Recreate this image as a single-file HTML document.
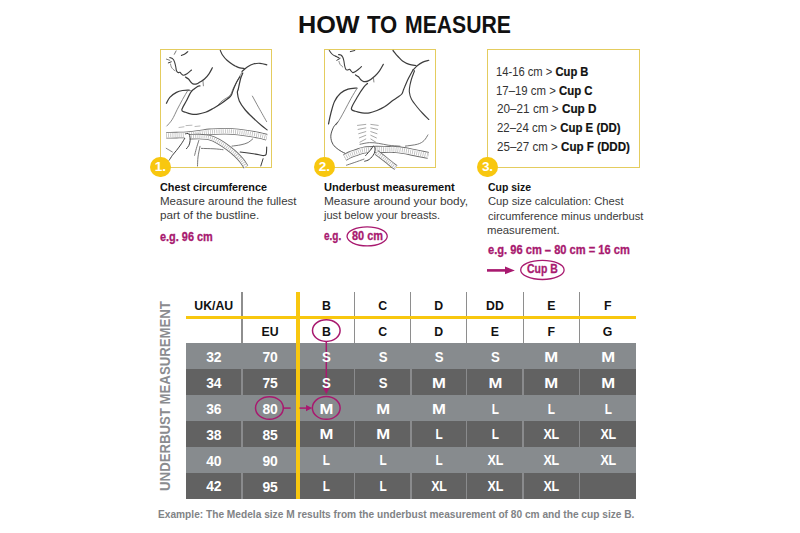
<!DOCTYPE html>
<html><head><meta charset="utf-8"><style>
*{margin:0;padding:0;box-sizing:border-box}
html,body{width:800px;height:533px;background:#fff;overflow:hidden}
body{position:relative;font-family:"Liberation Sans",Arial,sans-serif;color:#222}
.a{position:absolute;white-space:nowrap;transform-origin:0 0}
.box{position:absolute;top:49px;height:118.7px;border:1.5px solid #e4cc5e}
.num{position:absolute;width:20.6px;height:20.6px;border-radius:50%;background:#f8c70f;color:#fff;font-weight:bold;font-size:13.6px;line-height:19.5px;text-align:center;top:156.6px;letter-spacing:-0.2px}
.bg{position:absolute}
.c{position:absolute;text-align:center;font-weight:bold;white-space:nowrap}
.w{color:#fff;font-size:13.9px;letter-spacing:-0.3px}
.k{color:#111;font-size:12.3px}
.sk{-webkit-text-stroke:0.3px currentColor}
.cl b{color:#111;-webkit-text-stroke:0.2px #111}
</style></head><body>
<div class="bg" style="left:185.6px;top:343.30px;width:450.20px;height:25.97px;background:#878b8e"></div>
<div class="bg" style="left:185.6px;top:369.22px;width:450.20px;height:25.97px;background:#626262"></div>
<div class="bg" style="left:241.00px;top:369.22px;width:1.8px;height:25.92px;background:#8a8b8d"></div>
<div class="bg" style="left:353.70px;top:369.22px;width:1.8px;height:25.92px;background:#8a8b8d"></div>
<div class="bg" style="left:409.90px;top:369.22px;width:1.8px;height:25.92px;background:#8a8b8d"></div>
<div class="bg" style="left:465.70px;top:369.22px;width:1.8px;height:25.92px;background:#8a8b8d"></div>
<div class="bg" style="left:522.30px;top:369.22px;width:1.8px;height:25.92px;background:#8a8b8d"></div>
<div class="bg" style="left:578.60px;top:369.22px;width:1.8px;height:25.92px;background:#8a8b8d"></div>
<div class="bg" style="left:185.6px;top:395.14px;width:450.20px;height:25.97px;background:#878b8e"></div>
<div class="bg" style="left:185.6px;top:421.06px;width:450.20px;height:25.97px;background:#626262"></div>
<div class="bg" style="left:241.00px;top:421.06px;width:1.8px;height:25.92px;background:#8a8b8d"></div>
<div class="bg" style="left:353.70px;top:421.06px;width:1.8px;height:25.92px;background:#8a8b8d"></div>
<div class="bg" style="left:409.90px;top:421.06px;width:1.8px;height:25.92px;background:#8a8b8d"></div>
<div class="bg" style="left:465.70px;top:421.06px;width:1.8px;height:25.92px;background:#8a8b8d"></div>
<div class="bg" style="left:522.30px;top:421.06px;width:1.8px;height:25.92px;background:#8a8b8d"></div>
<div class="bg" style="left:578.60px;top:421.06px;width:1.8px;height:25.92px;background:#8a8b8d"></div>
<div class="bg" style="left:185.6px;top:446.98px;width:450.20px;height:25.97px;background:#878b8e"></div>
<div class="bg" style="left:185.6px;top:472.90px;width:450.20px;height:25.97px;background:#626262"></div>
<div class="bg" style="left:241.00px;top:472.90px;width:1.8px;height:25.92px;background:#8a8b8d"></div>
<div class="bg" style="left:353.70px;top:472.90px;width:1.8px;height:25.92px;background:#8a8b8d"></div>
<div class="bg" style="left:409.90px;top:472.90px;width:1.8px;height:25.92px;background:#8a8b8d"></div>
<div class="bg" style="left:465.70px;top:472.90px;width:1.8px;height:25.92px;background:#8a8b8d"></div>
<div class="bg" style="left:522.30px;top:472.90px;width:1.8px;height:25.92px;background:#8a8b8d"></div>
<div class="bg" style="left:578.60px;top:472.90px;width:1.8px;height:25.92px;background:#8a8b8d"></div>
<div class="bg" style="left:241.20px;top:292.3px;width:1.4px;height:51.00px;background:#8e8e8e"></div>
<div class="bg" style="left:353.90px;top:292.3px;width:1.4px;height:51.00px;background:#8e8e8e"></div>
<div class="bg" style="left:410.10px;top:292.3px;width:1.4px;height:51.00px;background:#8e8e8e"></div>
<div class="bg" style="left:465.90px;top:292.3px;width:1.4px;height:51.00px;background:#8e8e8e"></div>
<div class="bg" style="left:522.50px;top:292.3px;width:1.4px;height:51.00px;background:#8e8e8e"></div>
<div class="bg" style="left:578.80px;top:292.3px;width:1.4px;height:51.00px;background:#8e8e8e"></div>
<div class="bg" style="left:185.6px;top:316.1px;width:450.20px;height:2.5px;background:#f8c70f"></div>
<div class="bg" style="left:296.4px;top:291.7px;width:3.3px;height:207.00px;background:#f8c70f"></div>
<div class="c k" style="left:185.60px;width:56.30px;top:297.60px;line-height:16px">UK/AU</div>
<div class="c k" style="left:241.90px;width:56.20px;top:323.60px;line-height:16px">EU</div>
<div class="c k" style="left:298.10px;width:56.50px;top:297.60px;line-height:16px">B</div>
<div class="c k" style="left:298.10px;width:56.50px;top:323.60px;line-height:16px">B</div>
<div class="c k" style="left:354.60px;width:56.20px;top:297.60px;line-height:16px">C</div>
<div class="c k" style="left:354.60px;width:56.20px;top:323.60px;line-height:16px">C</div>
<div class="c k" style="left:410.80px;width:55.80px;top:297.60px;line-height:16px">D</div>
<div class="c k" style="left:410.80px;width:55.80px;top:323.60px;line-height:16px">D</div>
<div class="c k" style="left:466.60px;width:56.60px;top:297.60px;line-height:16px">DD</div>
<div class="c k" style="left:466.60px;width:56.60px;top:323.60px;line-height:16px">E</div>
<div class="c k" style="left:523.20px;width:56.30px;top:297.60px;line-height:16px">E</div>
<div class="c k" style="left:523.20px;width:56.30px;top:323.60px;line-height:16px">F</div>
<div class="c k" style="left:579.50px;width:56.30px;top:297.60px;line-height:16px">F</div>
<div class="c k" style="left:579.50px;width:56.30px;top:323.60px;line-height:16px">G</div>
<svg class="bg" style="left:0;top:0" width="800" height="533" viewBox="0 0 800 533">
<g fill="none" stroke="#a8196f" stroke-width="1.5">
<ellipse cx="326.3" cy="330.6" rx="13.8" ry="10.8"/>
<line x1="326.3" y1="341.5" x2="326.3" y2="389"/>
<ellipse cx="269.4" cy="408" rx="13.9" ry="11.3"/>
<ellipse cx="326.25" cy="407.9" rx="13.9" ry="11.4"/>
<line x1="283.5" y1="408.1" x2="290.6" y2="408.1"/>
<line x1="299.5" y1="408.1" x2="307" y2="408.1"/>
</g>
<g fill="#a8196f">
<path d="M306,405 L312.2,408.1 L306,411.2Z"/>
<path d="M323.2,388 L326.3,394.2 L329.4,388Z"/>
</g>
</svg>
<div class="c w" style="left:185.60px;width:56.30px;top:348.86px;line-height:16px">32</div>
<div class="c w" style="left:241.90px;width:56.20px;top:349.36px;line-height:16px">70</div>
<div class="c w" style="left:298.10px;width:56.50px;top:348.66px;line-height:16px;transform:scaleX(0.95)">S</div>
<div class="c w" style="left:354.60px;width:56.20px;top:348.66px;line-height:16px;transform:scaleX(0.95)">S</div>
<div class="c w" style="left:410.80px;width:55.80px;top:348.66px;line-height:16px;transform:scaleX(0.95)">S</div>
<div class="c w" style="left:466.60px;width:56.60px;top:348.66px;line-height:16px;transform:scaleX(0.95)">S</div>
<div class="c w" style="left:523.20px;width:56.30px;top:348.66px;line-height:16px;transform:scaleX(1.2)">M</div>
<div class="c w" style="left:579.50px;width:56.30px;top:348.66px;line-height:16px;transform:scaleX(1.2)">M</div>
<div class="c w" style="left:185.60px;width:56.30px;top:374.78px;line-height:16px">34</div>
<div class="c w" style="left:241.90px;width:56.20px;top:375.28px;line-height:16px">75</div>
<div class="c w" style="left:298.10px;width:56.50px;top:374.58px;line-height:16px;transform:scaleX(0.95)">S</div>
<div class="c w" style="left:354.60px;width:56.20px;top:374.58px;line-height:16px;transform:scaleX(0.95)">S</div>
<div class="c w" style="left:410.80px;width:55.80px;top:374.58px;line-height:16px;transform:scaleX(1.2)">M</div>
<div class="c w" style="left:466.60px;width:56.60px;top:374.58px;line-height:16px;transform:scaleX(1.2)">M</div>
<div class="c w" style="left:523.20px;width:56.30px;top:374.58px;line-height:16px;transform:scaleX(1.2)">M</div>
<div class="c w" style="left:579.50px;width:56.30px;top:374.58px;line-height:16px;transform:scaleX(1.2)">M</div>
<div class="c w" style="left:185.60px;width:56.30px;top:400.70px;line-height:16px">36</div>
<div class="c w" style="left:241.90px;width:56.20px;top:401.20px;line-height:16px">80</div>
<div class="c w" style="left:298.10px;width:56.50px;top:400.50px;line-height:16px;transform:scaleX(1.2)">M</div>
<div class="c w" style="left:354.60px;width:56.20px;top:400.50px;line-height:16px;transform:scaleX(1.2)">M</div>
<div class="c w" style="left:410.80px;width:55.80px;top:400.50px;line-height:16px;transform:scaleX(1.2)">M</div>
<div class="c w" style="left:466.60px;width:56.60px;top:400.50px;line-height:16px;transform:scaleX(0.85)">L</div>
<div class="c w" style="left:523.20px;width:56.30px;top:400.50px;line-height:16px;transform:scaleX(0.85)">L</div>
<div class="c w" style="left:579.50px;width:56.30px;top:400.50px;line-height:16px;transform:scaleX(0.85)">L</div>
<div class="c w" style="left:185.60px;width:56.30px;top:426.62px;line-height:16px">38</div>
<div class="c w" style="left:241.90px;width:56.20px;top:427.12px;line-height:16px">85</div>
<div class="c w" style="left:298.10px;width:56.50px;top:426.42px;line-height:16px;transform:scaleX(1.2)">M</div>
<div class="c w" style="left:354.60px;width:56.20px;top:426.42px;line-height:16px;transform:scaleX(1.2)">M</div>
<div class="c w" style="left:410.80px;width:55.80px;top:426.42px;line-height:16px;transform:scaleX(0.85)">L</div>
<div class="c w" style="left:466.60px;width:56.60px;top:426.42px;line-height:16px;transform:scaleX(0.85)">L</div>
<div class="c w" style="left:523.20px;width:56.30px;top:426.42px;line-height:16px;transform:scaleX(0.9)">XL</div>
<div class="c w" style="left:579.50px;width:56.30px;top:426.42px;line-height:16px;transform:scaleX(0.9)">XL</div>
<div class="c w" style="left:185.60px;width:56.30px;top:452.54px;line-height:16px">40</div>
<div class="c w" style="left:241.90px;width:56.20px;top:453.04px;line-height:16px">90</div>
<div class="c w" style="left:298.10px;width:56.50px;top:452.34px;line-height:16px;transform:scaleX(0.85)">L</div>
<div class="c w" style="left:354.60px;width:56.20px;top:452.34px;line-height:16px;transform:scaleX(0.85)">L</div>
<div class="c w" style="left:410.80px;width:55.80px;top:452.34px;line-height:16px;transform:scaleX(0.85)">L</div>
<div class="c w" style="left:466.60px;width:56.60px;top:452.34px;line-height:16px;transform:scaleX(0.9)">XL</div>
<div class="c w" style="left:523.20px;width:56.30px;top:452.34px;line-height:16px;transform:scaleX(0.9)">XL</div>
<div class="c w" style="left:579.50px;width:56.30px;top:452.34px;line-height:16px;transform:scaleX(0.9)">XL</div>
<div class="c w" style="left:185.60px;width:56.30px;top:478.46px;line-height:16px">42</div>
<div class="c w" style="left:241.90px;width:56.20px;top:478.96px;line-height:16px">95</div>
<div class="c w" style="left:298.10px;width:56.50px;top:478.26px;line-height:16px;transform:scaleX(0.85)">L</div>
<div class="c w" style="left:354.60px;width:56.20px;top:478.26px;line-height:16px;transform:scaleX(0.85)">L</div>
<div class="c w" style="left:410.80px;width:55.80px;top:478.26px;line-height:16px;transform:scaleX(0.9)">XL</div>
<div class="c w" style="left:466.60px;width:56.60px;top:478.26px;line-height:16px;transform:scaleX(0.9)">XL</div>
<div class="c w" style="left:523.20px;width:56.30px;top:478.26px;line-height:16px;transform:scaleX(0.9)">XL</div>
<div class="box" style="left:159.6px;width:112.4px"></div>
<div class="box" style="left:323.5px;width:112.5px"></div>
<div class="box" style="left:486.6px;width:153.4px"></div>
<svg class="bg" style="left:0;top:0" width="800" height="533" viewBox="0 0 800 533"><g fill="none" stroke-linecap="round" stroke-linejoin="round"><path d="M166.2,135.3C167.9,135.3 173.0,135.2 176.5,135.1C180.0,135.0 183.3,135.0 187.2,134.7C191.1,134.4 196.3,133.7 200.0,133.2C203.7,132.7 205.7,132.2 209.5,131.9C213.3,131.6 219.2,131.4 223.0,131.3C226.8,131.2 228.2,131.2 232.0,131.5C235.8,131.8 241.0,132.4 245.5,133.0C250.0,133.6 255.5,134.6 259.0,135.3C262.5,136.0 265.4,136.9 266.7,137.2" stroke="#6e6e6e" stroke-width="6.6" fill="none" stroke-linecap="butt"/><path d="M166.2,135.3C167.9,135.3 173.0,135.2 176.5,135.1C180.0,135.0 183.3,135.0 187.2,134.7C191.1,134.4 196.3,133.7 200.0,133.2C203.7,132.7 205.7,132.2 209.5,131.9C213.3,131.6 219.2,131.4 223.0,131.3C226.8,131.2 228.2,131.2 232.0,131.5C235.8,131.8 241.0,132.4 245.5,133.0C250.0,133.6 255.5,134.6 259.0,135.3C262.5,136.0 265.4,136.9 266.7,137.2" stroke="#fff" stroke-width="4.9" fill="none" stroke-linecap="butt"/><path d="M166.2,135.3C167.9,135.3 173.0,135.2 176.5,135.1C180.0,135.0 183.3,135.0 187.2,134.7C191.1,134.4 196.3,133.7 200.0,133.2C203.7,132.7 205.7,132.2 209.5,131.9C213.3,131.6 219.2,131.4 223.0,131.3C226.8,131.2 228.2,131.2 232.0,131.5C235.8,131.8 241.0,132.4 245.5,133.0C250.0,133.6 255.5,134.6 259.0,135.3C262.5,136.0 265.4,136.9 266.7,137.2" stroke="#bdbdbd" stroke-width="4.2" fill="none" stroke-dasharray="0.8 1.3" stroke-linecap="butt"/><path d="M189.0,136.8C190.7,136.8 195.6,136.5 199.0,136.6C202.4,136.7 206.2,136.8 209.5,137.6C212.8,138.4 215.5,139.8 218.5,141.5C221.5,143.2 224.6,145.3 227.5,147.5C230.4,149.7 233.6,152.2 236.0,154.5C238.4,156.8 240.3,158.9 242.0,161.0C243.7,163.1 245.3,166.0 246.0,167.0" stroke="#6e6e6e" stroke-width="5.5" fill="none" stroke-linecap="butt"/><path d="M189.0,136.8C190.7,136.8 195.6,136.5 199.0,136.6C202.4,136.7 206.2,136.8 209.5,137.6C212.8,138.4 215.5,139.8 218.5,141.5C221.5,143.2 224.6,145.3 227.5,147.5C230.4,149.7 233.6,152.2 236.0,154.5C238.4,156.8 240.3,158.9 242.0,161.0C243.7,163.1 245.3,166.0 246.0,167.0" stroke="#fff" stroke-width="3.8" fill="none" stroke-linecap="butt"/><path d="M189.0,136.8C190.7,136.8 195.6,136.5 199.0,136.6C202.4,136.7 206.2,136.8 209.5,137.6C212.8,138.4 215.5,139.8 218.5,141.5C221.5,143.2 224.6,145.3 227.5,147.5C230.4,149.7 233.6,152.2 236.0,154.5C238.4,156.8 240.3,158.9 242.0,161.0C243.7,163.1 245.3,166.0 246.0,167.0" stroke="#bdbdbd" stroke-width="3.1" fill="none" stroke-dasharray="0.8 1.3" stroke-linecap="butt"/><path d="M344.7,157.6C345.6,157.1 347.9,155.7 349.9,154.8C351.9,153.9 354.4,153.2 356.8,152.4C359.2,151.6 360.8,150.6 364.0,150.1C367.2,149.6 371.8,149.4 376.0,149.3C380.2,149.2 385.8,149.6 389.1,149.6C392.4,149.6 392.5,149.2 396.0,149.6C399.5,149.9 404.6,150.7 410.0,151.7C415.4,152.7 425.2,154.8 428.3,155.4" stroke="#6e6e6e" stroke-width="7.0" fill="none" stroke-linecap="butt"/><path d="M344.7,157.6C345.6,157.1 347.9,155.7 349.9,154.8C351.9,153.9 354.4,153.2 356.8,152.4C359.2,151.6 360.8,150.6 364.0,150.1C367.2,149.6 371.8,149.4 376.0,149.3C380.2,149.2 385.8,149.6 389.1,149.6C392.4,149.6 392.5,149.2 396.0,149.6C399.5,149.9 404.6,150.7 410.0,151.7C415.4,152.7 425.2,154.8 428.3,155.4" stroke="#fff" stroke-width="5.3" fill="none" stroke-linecap="butt"/><path d="M344.7,157.6C345.6,157.1 347.9,155.7 349.9,154.8C351.9,153.9 354.4,153.2 356.8,152.4C359.2,151.6 360.8,150.6 364.0,150.1C367.2,149.6 371.8,149.4 376.0,149.3C380.2,149.2 385.8,149.6 389.1,149.6C392.4,149.6 392.5,149.2 396.0,149.6C399.5,149.9 404.6,150.7 410.0,151.7C415.4,152.7 425.2,154.8 428.3,155.4" stroke="#bdbdbd" stroke-width="4.6" fill="none" stroke-dasharray="0.8 1.3" stroke-linecap="butt"/><path d="M376.5,152.5C378.1,153.7 383.2,157.6 386.0,159.8C388.8,162.0 391.3,164.2 393.0,165.5C394.7,166.8 395.5,167.2 396.0,167.5" stroke="#6e6e6e" stroke-width="5.5" fill="none" stroke-linecap="butt"/><path d="M376.5,152.5C378.1,153.7 383.2,157.6 386.0,159.8C388.8,162.0 391.3,164.2 393.0,165.5C394.7,166.8 395.5,167.2 396.0,167.5" stroke="#fff" stroke-width="3.8" fill="none" stroke-linecap="butt"/><path d="M376.5,152.5C378.1,153.7 383.2,157.6 386.0,159.8C388.8,162.0 391.3,164.2 393.0,165.5C394.7,166.8 395.5,167.2 396.0,167.5" stroke="#bdbdbd" stroke-width="3.1" fill="none" stroke-dasharray="0.8 1.3" stroke-linecap="butt"/><path d="M184.3,134.6 C185.5,133.4 188,133 189.6,135.3 C190.6,137.5 190.3,142 188.9,145.4 C188,147.2 186.4,148.7 186.4,148.7 L183.5,145 L184.7,138.4Z" fill="#fff" stroke="none"/><path d="M365.6,155.6 L371.3,149 L373.1,146.2 L375,148 L374.4,153.7 L369.4,159.3 L364.7,161.2Z" fill="#fff" stroke="none"/><path d="M174.3,54.3L176.1,50.9" stroke="#6a6a6a" stroke-width="0.9"/><path d="M181.4,55.4C182.0,55.1 183.7,54.5 184.8,53.9C185.9,53.3 187.3,52.0 187.8,51.6" stroke="#3c3c3c" stroke-width="1.1"/><path d="M166.4,59.1L169.8,60.3" stroke="#6a6a6a" stroke-width="0.9"/><path d="M168.3,62.9L171.3,61.8" stroke="#3c3c3c" stroke-width="1.0"/><path d="M169.8,57.6C170.3,57.8 172.0,58.0 172.8,58.8C173.6,59.5 174.1,60.7 174.6,62.1C175.1,63.5 175.5,65.5 175.8,67.0C176.1,68.5 176.1,69.9 176.5,70.8C176.9,71.7 177.4,72.3 178.0,72.6C178.6,72.8 179.3,72.1 179.9,72.3C180.5,72.5 180.8,73.3 181.4,73.8C182.0,74.3 182.4,75.3 183.3,75.3C184.2,75.3 185.6,74.7 187.0,73.8C188.4,72.9 190.8,70.6 191.5,70.0" stroke="#3c3c3c" stroke-width="1.1"/><path d="M170.5,64.0C170.6,64.5 170.9,66.1 171.3,67.0C171.7,67.9 172.5,68.7 173.1,69.3C173.7,69.9 174.7,70.5 175.0,70.8" stroke="#6a6a6a" stroke-width="0.8"/><path d="M185.5,77.1C186.0,77.4 187.6,78.2 188.5,79.0C189.4,79.8 190.1,81.2 190.8,82.0C191.6,82.8 192.0,83.6 193.0,83.9C194.0,84.2 195.6,84.2 196.8,83.9C198.0,83.6 198.7,82.8 200.0,82.0C201.3,81.2 203.0,80.4 204.5,79.0C206.0,77.6 207.7,75.7 209.0,73.8C210.3,71.9 211.8,68.8 212.4,67.8" stroke="#3c3c3c" stroke-width="1.2"/><path d="M203.0,81.3L203.4,85.8" stroke="#6a6a6a" stroke-width="0.8"/><path d="M220.3,50.5C220.7,51.2 221.4,53.4 222.5,55.0C223.6,56.6 225.2,58.7 227.0,60.3C228.8,61.9 231.5,63.8 233.0,64.8C234.5,65.8 234.9,65.8 236.0,66.3C237.1,66.8 238.4,67.4 239.8,67.8C241.2,68.2 243.6,68.4 244.3,68.5" stroke="#3c3c3c" stroke-width="1.2"/><path d="M242.0,71.5C242.9,70.8 245.4,68.2 247.3,67.0C249.2,65.8 251.2,64.6 253.3,64.0C255.4,63.4 257.8,63.2 260.0,63.3C262.2,63.4 265.7,64.5 266.8,64.8" stroke="#3c3c3c" stroke-width="1.2"/><path d="M242.0,72.3C241.5,73.2 240.0,75.6 239.0,77.5C238.0,79.4 237.0,81.6 236.0,83.5C235.0,85.4 234.0,87.0 233.0,89.0C232.0,91.0 231.8,93.4 230.0,95.4C228.2,97.4 224.2,99.1 222.0,101.0C219.8,102.9 217.4,105.8 216.5,106.7" stroke="#6a6a6a" stroke-width="0.8"/><path d="M242.8,73.0C242.4,74.0 241.2,76.3 240.5,79.0C239.8,81.7 238.8,86.7 238.3,89.0C237.8,91.3 237.2,90.8 237.4,92.8C237.6,94.8 238.0,98.1 239.3,101.0C240.6,103.9 242.9,107.1 245.3,110.0C247.7,112.9 250.8,115.7 253.5,118.3C256.2,120.9 259.5,123.9 261.8,125.8C264.1,127.7 266.2,129.2 267.1,129.9" stroke="#3c3c3c" stroke-width="1.2"/><path d="M252.4,96.1C253.5,98.0 256.4,103.5 258.8,107.8C261.2,112.0 265.3,119.3 266.6,121.6" stroke="#6a6a6a" stroke-width="0.8"/><path d="M166.4,103.3C167.0,102.3 168.1,99.1 169.8,97.3C171.5,95.5 174.4,93.5 176.5,92.4C178.6,91.3 180.4,90.9 182.5,90.5C184.6,90.1 188.2,90.2 189.3,90.1" stroke="#3c3c3c" stroke-width="1.2"/><path d="M194.5,89.0C194.0,89.2 192.6,90.2 191.5,90.5C190.4,90.8 188.4,90.5 187.8,90.5" stroke="#6a6a6a" stroke-width="0.7"/><path d="M187.8,90.5C186.9,92.0 184.2,96.4 182.5,99.5C180.8,102.6 179.1,105.9 177.3,109.3C175.6,112.7 173.8,117.0 172.0,119.8C170.2,122.6 167.7,125.0 166.8,126.0" stroke="#6a6a6a" stroke-width="0.8"/><path d="M200.0,85.8C199.6,85.9 198.9,85.6 197.5,86.5C196.1,87.4 193.4,88.9 191.5,91.3C189.6,93.7 187.9,97.9 186.3,101.0C184.7,104.1 181.9,108.1 181.8,110.0C181.7,111.9 183.9,111.6 185.5,112.3C187.1,113.0 189.4,113.8 191.5,114.1C193.6,114.4 195.7,114.4 198.0,114.1C200.3,113.8 203.0,113.2 205.5,112.3C208.0,111.4 210.5,109.9 213.0,108.5C215.5,107.1 217.6,106.0 220.5,104.0C223.4,102.0 228.3,98.5 230.3,96.5C232.3,94.5 231.8,93.8 232.5,92.0C233.2,90.2 234.0,87.9 234.8,86.0C235.6,84.1 236.6,82.0 237.5,80.5C238.4,79.0 239.6,77.4 240.0,76.8" stroke="#3c3c3c" stroke-width="1.2"/><path d="M232.0,146.1C233.5,145.9 238.3,145.4 241.0,144.8C243.7,144.2 246.2,143.5 248.2,142.5C250.1,141.5 251.9,139.5 252.7,138.9" stroke="#6a6a6a" stroke-width="0.9"/><path d="M240.1,152.0C241.8,152.2 246.8,152.9 250.0,153.3C253.2,153.8 256.8,154.3 259.0,154.7C261.2,155.1 262.3,155.7 263.5,155.6C264.7,155.5 265.7,155.6 266.2,154.2C266.7,152.8 266.6,148.2 266.7,147.0" stroke="#3c3c3c" stroke-width="1.1"/><path d="M263.1,158.7L260.8,166.0" stroke="#3c3c3c" stroke-width="1.0"/><path d="M201.4,148.4C203.5,148.5 210.4,148.6 214.0,148.8C217.6,149.0 221.5,149.5 223.0,149.7" stroke="#6a6a6a" stroke-width="0.9"/><path d="M185.6,133.9C186.0,133.8 187.3,133.2 188.0,133.5C188.7,133.8 189.3,134.3 189.7,135.5C190.0,136.7 190.2,138.8 190.1,140.5C190.0,142.2 189.5,144.0 188.9,145.4C188.3,146.8 186.8,148.1 186.4,148.7" stroke="#3c3c3c" stroke-width="1.0"/><path d="M184.7,138.4C184.1,139.3 182.8,141.8 181.4,143.8C180.0,145.8 178.0,148.5 176.5,150.4C175.0,152.3 173.6,153.7 172.4,155.3C171.2,157.0 169.7,159.5 169.1,160.3" stroke="#3c3c3c" stroke-width="1.0"/><path d="M166.2,148.3L172.4,152.0" stroke="#6a6a6a" stroke-width="0.8"/><path d="M198.8,140.5C198.4,141.9 197.0,146.2 196.3,148.7C195.6,151.2 194.9,154.2 194.6,155.3" stroke="#6a6a6a" stroke-width="0.9"/><path d="M200.0,146.3C199.7,148.1 198.4,153.7 198.0,157.0C197.6,160.3 197.6,164.5 197.5,166.0" stroke="#6a6a6a" stroke-width="0.9"/><path d="M179.0,127.5L184.0,126.8" stroke="#9a9a9a" stroke-width="0.7"/><path d="M186.0,125.6L192.0,125.2" stroke="#9a9a9a" stroke-width="0.7"/><path d="M195.0,126.5L200.0,126.0" stroke="#9a9a9a" stroke-width="0.7"/><path d="M329.3,50.5C329.7,51.0 330.8,52.7 331.5,53.5C332.2,54.3 333.0,54.9 333.8,55.4C334.6,55.9 335.5,56.1 336.4,56.5C337.3,56.9 338.6,57.8 339.0,58.0" stroke="#3c3c3c" stroke-width="1.1"/><path d="M336.8,60.3L340.1,58.4" stroke="#3c3c3c" stroke-width="1.0"/><path d="M338.6,54.6C339.0,54.7 340.2,54.5 340.9,55.0C341.6,55.5 342.3,56.3 342.8,57.3C343.3,58.3 343.6,59.6 343.9,61.0C344.2,62.4 344.3,64.1 344.6,65.5C344.9,66.9 345.4,68.5 345.8,69.3C346.2,70.0 346.7,70.0 347.3,70.0C347.9,70.0 348.9,69.2 349.5,69.3C350.1,69.4 350.4,70.2 351.0,70.8C351.6,71.3 352.1,72.5 352.9,72.6C353.6,72.7 354.6,72.0 355.5,71.5C356.4,71.0 357.5,70.1 358.5,69.3C359.5,68.5 361.0,67.0 361.5,66.6" stroke="#3c3c3c" stroke-width="1.1"/><path d="M339.0,61.4C339.2,61.9 339.5,63.5 340.1,64.4C340.7,65.3 342.4,66.6 342.8,67.0" stroke="#6a6a6a" stroke-width="0.8"/><path d="M350.3,51.6L354.8,50.5" stroke="#3c3c3c" stroke-width="1.0"/><path d="M355.5,74.9C356.0,75.2 357.6,76.0 358.5,76.8C359.4,77.6 359.9,79.0 360.8,79.8C361.7,80.6 362.6,81.4 363.8,81.6C365.1,81.8 366.4,81.8 368.3,80.9C370.2,80.0 373.1,77.7 375.0,76.0C376.9,74.3 378.1,72.7 379.5,70.8C380.9,68.9 382.7,65.5 383.3,64.4" stroke="#3c3c3c" stroke-width="1.2"/><path d="M373.5,78.3L373.9,82.0" stroke="#6a6a6a" stroke-width="0.8"/><path d="M393.0,50.5C393.5,51.1 395.2,53.3 396.0,54.3C396.8,55.3 396.9,55.4 398.0,56.5C399.1,57.6 400.6,59.7 402.5,61.0C404.4,62.3 407.1,63.7 409.3,64.4C411.6,65.2 414.9,65.3 416.0,65.5" stroke="#3c3c3c" stroke-width="1.2"/><path d="M413.0,70.0C413.8,69.2 415.9,66.8 417.5,65.5C419.1,64.2 420.9,63.0 422.8,62.1C424.7,61.2 427.8,60.6 428.8,60.3" stroke="#3c3c3c" stroke-width="1.2"/><path d="M413.0,70.0C412.2,71.4 409.8,75.8 408.5,78.3C407.2,80.8 406.3,83.1 405.5,85.0C404.7,86.9 404.2,88.0 403.6,89.5C403.0,91.0 402.7,92.8 401.8,94.0C400.9,95.2 399.4,96.0 398.0,97.0C396.6,98.0 395.8,98.4 393.5,100.0C391.2,101.6 387.2,105.0 384.5,106.8C381.8,108.5 379.5,109.5 377.0,110.5C374.5,111.5 372.0,112.5 369.5,112.9C367.0,113.3 364.3,113.1 362.0,112.8C359.7,112.5 357.3,112.0 355.5,111.3C353.7,110.5 351.0,110.8 351.4,108.3C351.8,105.8 355.7,99.9 357.8,96.3C359.9,92.7 362.4,89.0 364.0,86.9C365.6,84.8 366.9,84.1 367.5,83.5" stroke="#3c3c3c" stroke-width="1.2"/><path d="M414.5,70.8C414.0,72.2 412.2,76.6 411.5,79.0C410.8,81.4 410.4,82.9 410.0,85.0C409.6,87.1 409.1,89.4 409.3,91.8C409.6,94.2 410.1,96.7 411.5,99.3C412.9,101.9 415.6,105.1 417.5,107.5C419.4,109.9 420.9,111.5 422.8,113.5C424.7,115.5 427.8,118.5 428.8,119.5" stroke="#3c3c3c" stroke-width="1.1"/><path d="M328.5,124.0C328.9,122.2 329.8,117.2 330.8,113.5C331.8,109.8 332.9,104.9 334.5,101.5C336.1,98.1 338.2,95.4 340.5,93.3C342.8,91.2 345.2,90.0 348.0,89.1C350.8,88.2 355.5,88.2 357.0,88.0" stroke="#3c3c3c" stroke-width="1.2"/><path d="M357.0,88.4C356.0,90.1 353.0,94.9 351.0,98.5C349.0,102.1 346.8,106.5 345.0,109.8C343.2,113.0 342.0,115.5 340.5,118.0C339.0,120.5 336.8,123.8 336.0,125.0" stroke="#6a6a6a" stroke-width="0.8"/><path d="M337.8,122.0C337.1,122.9 334.6,125.0 333.5,127.2C332.4,129.4 331.2,132.6 330.9,135.0C330.6,137.4 331.1,139.9 331.8,141.9C332.5,143.9 333.6,145.4 335.2,147.0C336.8,148.6 339.7,150.4 341.3,151.4C342.9,152.4 344.1,152.8 344.7,153.1" stroke="#3c3c3c" stroke-width="0.9"/><path d="M427.9,134.9C427.3,135.8 425.8,138.9 424.1,140.5C422.4,142.1 420.7,143.3 417.6,144.2C414.5,145.1 407.4,145.8 405.4,146.1" stroke="#6a6a6a" stroke-width="0.9"/><path d="M360.0,144.3C361.6,144.0 366.3,142.8 369.4,142.6C372.5,142.4 375.7,143.0 378.8,143.4C381.9,143.8 384.7,144.7 388.2,145.2C391.7,145.7 398.0,146.0 400.0,146.2" stroke="#6a6a6a" stroke-width="0.9"/><path d="M357.5,125.4L365.8,124.4" stroke="#9a9a9a" stroke-width="0.85"/><path d="M370.8,124.4L378.2,125.4" stroke="#9a9a9a" stroke-width="0.85"/><path d="M358.1,129.4L365.8,127.9" stroke="#9a9a9a" stroke-width="0.85"/><path d="M370.8,127.9L377.6,129.4" stroke="#9a9a9a" stroke-width="0.85"/><path d="M358.7,133.7L365.8,131.6" stroke="#9a9a9a" stroke-width="0.85"/><path d="M370.8,131.6L377.0,133.7" stroke="#9a9a9a" stroke-width="0.85"/><path d="M359.3,137.9L365.8,135.3" stroke="#9a9a9a" stroke-width="0.85"/><path d="M370.8,135.3L376.4,137.9" stroke="#9a9a9a" stroke-width="0.85"/><path d="M359.9,142.2L365.8,139.0" stroke="#9a9a9a" stroke-width="0.85"/><path d="M370.8,139.0L375.8,142.2" stroke="#9a9a9a" stroke-width="0.85"/><path d="M365.6,155.6C366.6,154.5 370.1,150.6 371.3,149.0C372.6,147.4 372.5,146.4 373.1,146.2C373.7,146.0 374.8,146.8 375.0,148.0C375.2,149.2 375.0,151.8 374.1,153.7C373.2,155.6 371.0,158.1 369.4,159.3C367.8,160.6 365.5,160.9 364.7,161.2" stroke="#3c3c3c" stroke-width="1.0"/><path d="M346.5,165.2C347.8,164.8 351.3,163.6 354.2,162.6C357.1,161.6 362.4,159.7 364.0,159.1" stroke="#6a6a6a" stroke-width="0.9"/></g></svg>
<div class="num" style="left:150.00px">1.</div>
<div class="num" style="left:314.00px">2.</div>
<div class="num" style="left:477.10px">3.</div>
<div id="tt1" class="a" style="left:298.20px;top:12.98px;font-size:23.9px;line-height:23.9px;font-weight:700;color:#111;transform:scaleX(1.0553);">HOW</div>
<div id="tt2" class="a" style="left:366.66px;top:12.98px;font-size:23.9px;line-height:23.9px;font-weight:700;color:#111;transform:scaleX(0.9255);">TO</div>
<div id="tt3" class="a" style="left:404.76px;top:12.98px;font-size:23.9px;line-height:23.9px;font-weight:700;color:#111;transform:scaleX(0.8872);">MEASURE</div>
<div id="h1" class="a" style="left:160.05px;top:181.54px;font-size:10.9px;line-height:10.9px;font-weight:700;color:#111;transform:scaleX(0.9928);">Chest circumference</div>
<div id="t1a" class="a" style="left:159.58px;top:196.27px;font-size:10.5px;line-height:10.5px;font-weight:400;color:#3a3a3a;transform:scaleX(1.0984);">Measure around the fullest</div>
<div id="t1b" class="a" style="left:159.58px;top:210.07px;font-size:10.5px;line-height:10.5px;font-weight:400;color:#3a3a3a;transform:scaleX(1.1113);">part of the bustline.</div>
<div id="e1" class="a sk" style="left:160.05px;top:230.60px;font-size:12.0px;line-height:12.0px;font-weight:700;color:#a8196f;transform:scaleX(0.9090);">e.g. 96 cm</div>
<div id="h2" class="a" style="left:324.48px;top:181.54px;font-size:10.9px;line-height:10.9px;font-weight:700;color:#111;transform:scaleX(1.0185);">Underbust measurement</div>
<div id="t2a" class="a" style="left:323.68px;top:196.38px;font-size:10.5px;line-height:10.5px;font-weight:400;color:#3a3a3a;transform:scaleX(1.1281);">Measure around your body,</div>
<div id="t2b" class="a" style="left:324.48px;top:210.27px;font-size:10.5px;line-height:10.5px;font-weight:400;color:#3a3a3a;transform:scaleX(1.0530);">just below your breasts.</div>
<div id="e2a" class="a sk" style="left:324.48px;top:230.10px;font-size:12.0px;line-height:12.0px;font-weight:700;color:#a8196f;transform:scaleX(0.8325);">e.g.</div>
<div id="e2b" class="a sk" style="left:352.00px;top:229.80px;font-size:12.0px;line-height:12.0px;font-weight:700;color:#a8196f;transform:scaleX(0.9100);">80 cm</div>
<div id="h3" class="a" style="left:488.14px;top:181.63px;font-size:10.9px;line-height:10.9px;font-weight:700;color:#111;transform:scaleX(0.9604);">Cup size</div>
<div id="t3a" class="a" style="left:488.00px;top:196.47px;font-size:10.5px;line-height:10.5px;font-weight:400;color:#3a3a3a;transform:scaleX(1.0699);">Cup size calculation: Chest</div>
<div id="t3b" class="a" style="left:488.00px;top:210.88px;font-size:10.5px;line-height:10.5px;font-weight:400;color:#3a3a3a;transform:scaleX(1.0605);">circumference minus underbust</div>
<div id="t3c" class="a" style="left:487.20px;top:225.27px;font-size:10.5px;line-height:10.5px;font-weight:400;color:#3a3a3a;transform:scaleX(1.0811);">measurement.</div>
<div id="e3" class="a sk" style="left:487.86px;top:243.80px;font-size:12.0px;line-height:12.0px;font-weight:700;color:#a8196f;transform:scaleX(0.9268);">e.g. 96 cm – 80 cm = 16 cm</div>
<div id="cupb" class="a sk" style="left:527.10px;top:263.48px;font-size:12.2px;line-height:12.2px;font-weight:700;color:#a8196f;transform:scaleX(0.8580);">Cup B</div>
<div id="c1" class="a cl" style="left:496.35px;top:65.61px;font-size:12.7px;line-height:12.7px;font-weight:400;color:#333;transform:scaleX(0.8828);">14-16 cm &gt; <b>Cup B</b></div>
<div id="c2" class="a cl" style="left:496.35px;top:84.50px;font-size:12.7px;line-height:12.7px;font-weight:400;color:#333;transform:scaleX(0.8973);">17–19 cm &gt; <b>Cup C</b></div>
<div id="c3" class="a cl" style="left:497.00px;top:103.30px;font-size:12.7px;line-height:12.7px;font-weight:400;color:#333;transform:scaleX(0.9252);">20–21 cm &gt; <b>Cup D</b></div>
<div id="c4" class="a cl" style="left:497.00px;top:122.11px;font-size:12.7px;line-height:12.7px;font-weight:400;color:#333;transform:scaleX(0.9008);">22–24 cm &gt; <b>Cup E (DD)</b></div>
<div id="c5" class="a cl" style="left:497.00px;top:140.71px;font-size:12.7px;line-height:12.7px;font-weight:400;color:#333;transform:scaleX(0.9133);">25–27 cm &gt; <b>Cup F (DDD)</b></div>
<div id="foot" class="a" style="left:158.30px;top:509.49px;font-size:10.6px;line-height:10.6px;font-weight:700;color:#818386;transform:scaleX(0.9589);">Example: The Medela size M results from the underbust measurement of 80 cm and the cup size B.</div>
<svg class="bg" style="left:0;top:0" width="800" height="533"><g stroke="#a8196f" fill="none" stroke-width="1.3"><ellipse cx="367.15" cy="236.35" rx="20.1" ry="9.5"/><ellipse cx="542.4" cy="269.9" rx="21.7" ry="9.6"/></g><line x1="487" y1="270.4" x2="507" y2="270.4" stroke="#a8196f" stroke-width="2.6"/><path d="M505,266.5 L514.9,270.4 L505,274.3Z" fill="#a8196f"/></svg>
<div id="vlab" class="a" style="left:165px;top:396px;transform:translate(-50%,-50%) rotate(-90deg) scaleX(0.8915);transform-origin:50% 50%;font-size:14.8px;font-weight:bold;color:#8a8c8f;line-height:14.8px">UNDERBUST MEASUREMENT</div>
</body></html>
